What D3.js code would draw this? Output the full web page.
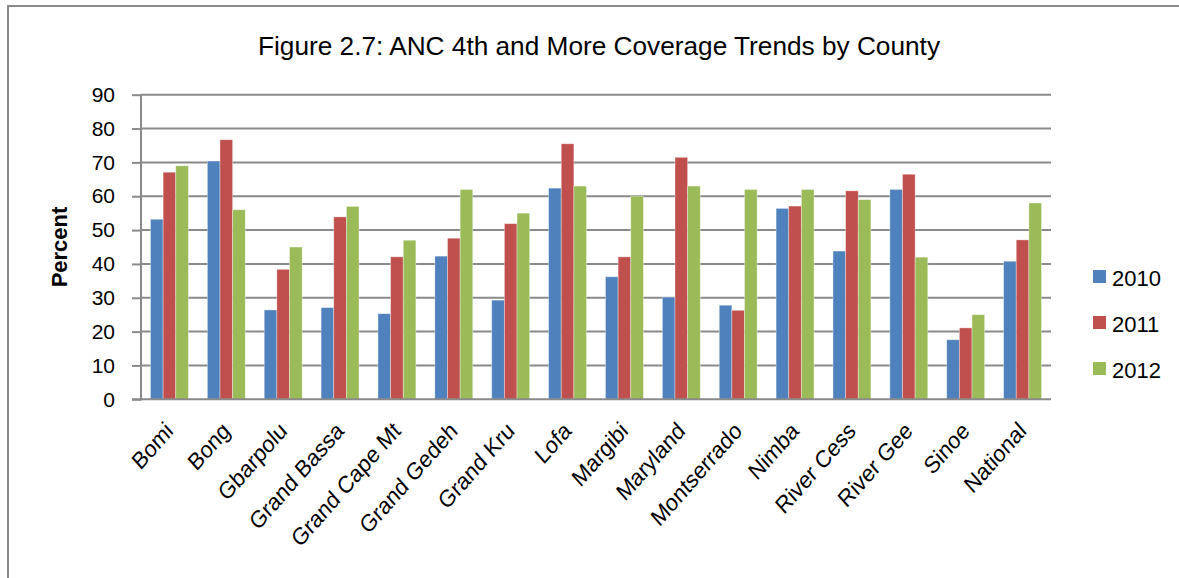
<!DOCTYPE html>
<html>
<head>
<meta charset="utf-8">
<script src="https://cdn.jsdelivr.net/npm/d3@7"></script>
<style>
  html, body { margin: 0; padding: 0; background: #fff; }
  svg { display: block; font-family: "Liberation Sans", Arial, sans-serif; }
</style>
</head>
<body>
<svg id="chart" width="1179" height="578"></svg>
<script>
// ANC 4th-and-more visit coverage (%) by county, 2010-2012
const counties = ["Bomi", "Bong", "Gbarpolu", "Grand Bassa", "Grand Cape Mt", "Grand Gedeh",
  "Grand Kru", "Lofa", "Margibi", "Maryland", "Montserrado", "Nimba", "River Cess",
  "River Gee", "Sinoe", "National"];
const years = ["2010", "2011", "2012"];
const values2010 = [53.2, 70.4, 26.4, 27.1, 25.3, 42.3, 29.3, 62.4, 36.2, 30.2, 27.8, 56.4, 43.8, 62, 17.6, 40.8];
const values2011 = [67.1, 76.7, 38.4, 53.9, 42.1, 47.6, 51.9, 75.5, 42.1, 71.5, 26.3, 57.1, 61.6, 66.5, 21.1, 47.1];
const values2012 = [69, 56, 45, 57, 47, 62, 55, 63, 60, 63, 62, 62, 59, 42, 25, 58];
const yTicks = [0, 10, 20, 30, 40, 50, 60, 70, 80, 90];
const colors = ["#4F81BD", "#C0504D", "#9BBB59"];

const series = [values2010, values2011, values2012];
const svg = d3.select("#chart");
const gridColor = "#8a8a8a";

// Frame around the chart area
svg.append("line").attr("x1", 8).attr("x2", 1179).attr("y1", 6).attr("y2", 6)
  .attr("stroke", gridColor).attr("stroke-width", 2);
svg.append("line").attr("x1", 8).attr("x2", 8).attr("y1", 5).attr("y2", 578)
  .attr("stroke", gridColor).attr("stroke-width", 2);

const plot = { left: 141, right: 1051, top: 94.7, bottom: 399.3 };

const x0 = d3.scaleBand().domain(counties).range([plot.left, plot.right])
  .paddingInner(1 / 3).paddingOuter(1 / 6);
const x1 = d3.scaleBand().domain(years).range([0, x0.bandwidth()]);
const y = d3.scaleLinear().domain([0, 90]).range([plot.bottom, plot.top]);

// Horizontal gridlines
svg.append("g").selectAll("line").data(yTicks.filter(d => d > 0)).join("line")
  .attr("x1", plot.left).attr("x2", plot.right)
  .attr("y1", d => y(d)).attr("y2", d => y(d))
  .attr("stroke", gridColor).attr("stroke-width", 2);

// Bars
const groups = svg.append("g").selectAll("g").data(counties).join("g")
  .attr("transform", d => `translate(${x0(d)},0)`);
groups.selectAll("rect")
  .data((c, i) => years.map((yr, k) => ({ yr, k, v: series[k][i] })))
  .join("rect")
  .attr("x", d => x1(d.yr))
  .attr("width", x1.bandwidth())
  .attr("y", d => y(d.v))
  .attr("height", d => y(0) - y(d.v))
  .attr("fill", d => colors[d.k])
  .attr("stroke", "rgba(255,255,255,0.45)")
  .attr("stroke-width", 0.8);

// Y axis
const yAxis = svg.append("g").attr("transform", `translate(${plot.left},0)`)
  .call(d3.axisLeft(y).tickValues(yTicks).tickSize(9).tickPadding(17));
yAxis.select(".domain").attr("stroke", gridColor).attr("stroke-width", 2)
  .attr("d", `M0,${plot.top}V${plot.bottom + 1}`);
yAxis.selectAll(".tick line").attr("stroke", gridColor).attr("stroke-width", 2);
yAxis.selectAll(".tick text").attr("font-size", 21).attr("fill", "#000")
  .attr("font-family", "Liberation Sans, Arial, sans-serif");

// X axis baseline
svg.append("line").attr("x1", plot.left - 9).attr("x2", plot.right)
  .attr("y1", plot.bottom).attr("y2", plot.bottom)
  .attr("stroke", gridColor).attr("stroke-width", 2);

// Category labels, rotated and slightly condensed
svg.append("g").selectAll("text").data(counties).join("text")
  .attr("transform", d => `translate(${x0(d) + x0.bandwidth() / 2 + 5},${plot.bottom + 33}) scale(0.88,1) rotate(-45)`)
  .attr("text-anchor", "end")
  .attr("font-size", 24)
  .attr("fill", "#000")
  .text(d => d);

// Y axis title
svg.append("text")
  .attr("transform", `translate(67,247) rotate(-90)`)
  .attr("text-anchor", "middle")
  .attr("font-size", 22).attr("font-weight", "bold")
  .text("Percent");

// Chart title
svg.append("text")
  .attr("x", 599).attr("y", 55)
  .attr("text-anchor", "middle")
  .attr("font-size", 26)
  .attr("textLength", 682).attr("lengthAdjust", "spacingAndGlyphs")
  .text("Figure 2.7: ANC 4th and More Coverage Trends by County");

// Legend
const legend = svg.append("g").selectAll("g").data(years).join("g")
  .attr("transform", (d, i) => `translate(1093,${277 + i * 46})`);
legend.append("rect").attr("x", 0).attr("y", -7).attr("width", 13).attr("height", 13)
  .attr("fill", (d, i) => colors[i]);
legend.append("text").attr("x", 19).attr("y", 8.5)
  .attr("font-size", 22).text(d => d);
</script>
</body>
</html>
